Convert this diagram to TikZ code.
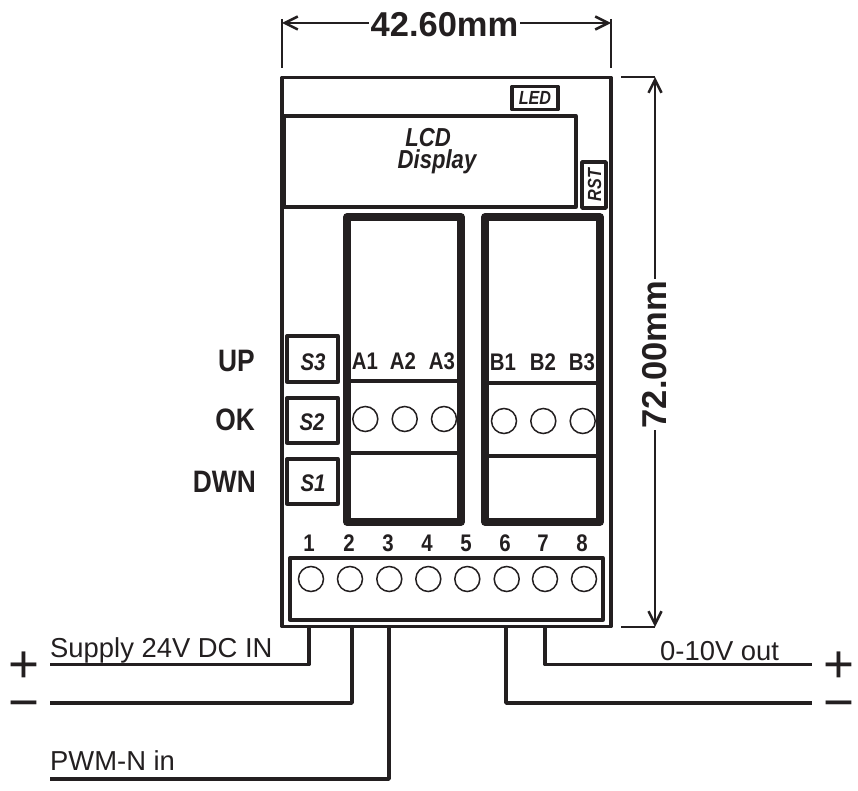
\documentclass[tikz,border=0pt]{standalone}
\usepackage{fontspec}
\usetikzlibrary{arrows.meta}
\setmainfont{Liberation Sans}
\newfontfamily\condfont[FakeStretch=0.85]{Liberation Sans}
\definecolor{ink}{HTML}{231F20}
\tikzset{
  partbox/.style={draw=ink,line width=3.3pt,line join=round,inner sep=0pt},
  relaybox/.style={draw=ink,line width=7.5pt,line join=round,inner sep=0pt},
  hole/.style={circle,draw=ink,line width=1.5pt,minimum size=25pt,inner sep=0pt},
  wire/.style={draw=ink,line width=3.5pt,line join=round},
  dimline/.style={draw=ink,line width=2.5pt},
  dimtip/.style={dimline,{Straight Barb[length=13pt,width=13pt]}-{Straight Barb[length=13pt,width=13pt]}},
  dimtext/.style={text=ink,inner sep=0pt,font=\bfseries\fontsize{34.5}{34.5}\selectfont},
  sidetext/.style={text=ink,inner sep=0pt,anchor=east,font=\condfont\bfseries\fontsize{31}{31}\selectfont},
  pintext/.style={text=ink,inner sep=0pt,font=\condfont\bfseries\fontsize{24}{24}\selectfont},
  parttext/.style={text=ink,inner sep=0pt,font=\condfont\bfseries\itshape\fontsize{24}{24}\selectfont},
  lcdtext/.style={text=ink,inner sep=0pt,align=center,font=\condfont\bfseries\itshape\fontsize{26}{21.5}\selectfont},
  smalltext/.style={text=ink,inner sep=0pt,font=\condfont\bfseries\itshape\fontsize{19}{19}\selectfont},
  wiretext/.style={text=ink,inner sep=0pt,anchor=base west,font=\fontsize{27.4}{27.4}\selectfont},
  signtext/.style={text=ink,inner sep=0pt,anchor=base,font=\fontsize{53}{53}\selectfont},
}
\begin{document}
\begin{tikzpicture}[x=1pt,y=-1pt]
\useasboundingbox (0,0) rectangle (858,791);

% Placa
\node (board) at (446.5,352) [partbox,line width=3.8pt,minimum width=329,minimum height=549] {};
\coordinate (w1) at (309,627);
\coordinate (w2) at (352,627);
\coordinate (w3) at (389,627);
\coordinate (w6) at (506,627);
\coordinate (w7) at (545,627);

% Display, LED, reset
\node (lcd) at (430,161.5) [partbox,minimum width=292,minimum height=91] {};
\node (lcdtext) at (437,151) [lcdtext] {LCD\hspace*{18pt}\\Display};
\node (led) at (535,98) [partbox,line width=3.8pt,minimum width=46,minimum height=23,smalltext] {LED};
\node (rst) at (594,185) [partbox,line width=3.8pt,minimum width=24,minimum height=46] {};
\node (rsttext) at (594.5,185) [smalltext,rotate=90] {RST};

% Botoes
\node (s3) at (312.5,359) [partbox,minimum width=51,minimum height=46] {};
\node (s2) at (312.5,420.5) [partbox,minimum width=51,minimum height=45] {};
\node (s1) at (312.5,481.5) [partbox,minimum width=51,minimum height=45] {};
\node (s3text) at (313,362) [parttext] {S3};
\node (s2text) at (312,422) [parttext] {S2};
\node (s1text) at (313,483) [parttext] {S1};
\node (up) at (255,361) [sidetext] {UP};
\node (ok) at (255,420) [sidetext] {OK};
\node (dwn) at (256,482) [sidetext] {DWN};

% Rele A
\node (relaya) at (404,369.5) [relaybox,minimum width=114,minimum height=305] {};
\draw[partbox] (relaya.west |- 0,381) -- (relaya.east |- 0,381);
\draw[partbox] (relaya.west |- 0,453) -- (relaya.east |- 0,453);
\node (a1) at (365,361) [pintext] {A1};
\node (a2) at (403,361) [pintext] {A2};
\node (a3) at (442,361) [pintext] {A3};
\node (ha1) at (365.3,419) [hole] {};
\node (ha2) at (404.7,419) [hole] {};
\node (ha3) at (444,419) [hole] {};

% Rele B
\node (relayb) at (542.5,369.5) [relaybox,minimum width=115,minimum height=305] {};
\draw[partbox] (relayb.west |- 0,383) -- (relayb.east |- 0,383);
\draw[partbox] (relayb.west |- 0,456) -- (relayb.east |- 0,456);
\node (b1) at (503,362) [pintext] {B1};
\node (b2) at (543,362) [pintext] {B2};
\node (b3) at (582,362) [pintext] {B3};
\node (hb1) at (504,421) [hole] {};
\node (hb2) at (543.3,421) [hole] {};
\node (hb3) at (582.7,421) [hole] {};

% Bornes
\node (block) at (446.5,589) [partbox,minimum width=313,minimum height=62] {};
\node (n1) at (309,543) [pintext] {1};
\node (n2) at (349,543) [pintext] {2};
\node (n3) at (388,543) [pintext] {3};
\node (n4) at (427,543) [pintext] {4};
\node (n5) at (466,543) [pintext] {5};
\node (n6) at (505,543) [pintext] {6};
\node (n7) at (543,543) [pintext] {7};
\node (n8) at (582,543) [pintext] {8};
\node (t1) at (311,579) [hole] {};
\node (t2) at (350,579) [hole] {};
\node (t3) at (389.3,579) [hole] {};
\node (t4) at (428.3,579) [hole] {};
\node (t5) at (467.3,579) [hole] {};
\node (t6) at (506.7,579) [hole] {};
\node (t7) at (545,579) [hole] {};
\node (t8) at (584,579) [hole] {};

% Cotas
\coordinate (dl) at (282,23);
\coordinate (dr) at (611,23);
\coordinate (dlt) at (282,68);
\coordinate (drt) at (611,68);
\draw[dimline] (282,19) -- (dlt);
\draw[dimline] (611,19) -- (drt);
\draw[dimtip] (dl) -- (dr);
\node (width) at (444.5,25) [dimtext,fill=white,inner xsep=2pt] {42.60mm};
\coordinate (dt) at (655,77);
\coordinate (db) at (655,627);
\draw[dimline] (621,77) -- (dt);
\draw[dimline] (621,627) -- (db);
\draw[dimtip] (dt) -- (db);
\node (height) at (655,354.5) [dimtext,fill=white,inner xsep=2pt,rotate=90] {72.00mm};

% Ligacoes
\coordinate (e1) at (50,664.5);
\coordinate (e2) at (50,703);
\coordinate (e3) at (50,779);
\coordinate (e6) at (812,703);
\coordinate (e7) at (812,664.5);
\draw[wire] (w1) |- (e1);
\draw[wire] (w2) |- (e2);
\draw[wire] (w3) |- (e3);
\draw[wire] (w6) |- (e6);
\draw[wire] (w7) |- (e7);
\node (supply) at (50,657) [wiretext] {Supply 24V DC IN};
\node (pwm) at (50,770) [wiretext] {PWM-N in};
\node (out) at (660,660.5) [wiretext] {0-10V out};
\node (pl) at (23.5,682) [signtext] {+};
\node (ml) at (23.5,720.5) [signtext] {−};
\node (pr) at (838.5,682) [signtext] {+};
\node (mr) at (838.5,720.5) [signtext] {−};

\end{tikzpicture}
\end{document}
